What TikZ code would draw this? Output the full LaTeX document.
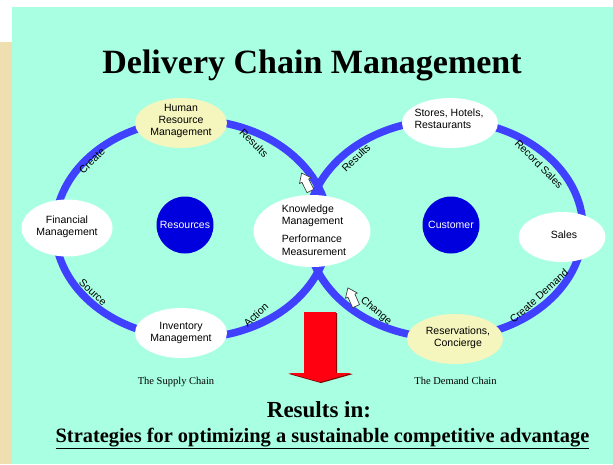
\documentclass[tikz,border=0pt]{standalone}
\usepackage{fontspec}
\setmainfont{Liberation Serif}
\newfontfamily\arialf{Liberation Sans}
\usetikzlibrary{shapes.geometric}
\definecolor{mint}{RGB}{168,255,226}
\definecolor{sand}{RGB}{238,222,176}
\definecolor{ringblue}{RGB}{64,64,255}
\definecolor{deepblue}{RGB}{0,0,222}
\definecolor{paleyellow}{RGB}{245,245,190}
\definecolor{arrowred}{RGB}{255,0,16}
\definecolor{darkred}{RGB}{120,0,0}

\begin{document}
\begin{tikzpicture}[x=1pt,y=-1pt,
  ring/.style={draw=ringblue,line width=7.5pt},
  oval/.style={ellipse,draw=none,fill=white,inner sep=0pt},
  hub/.style={circle,fill=deepblue,minimum size=57pt,inner sep=0pt,text=white,
    font=\arialf\fontsize{10.5}{12}\selectfont},
  txt/.style={font=\arialf\fontsize{10.5}{12.3}\selectfont,align=center,inner sep=0pt},
  arclabel/.style={font=\arialf\fontsize{10.5}{12}\selectfont,inner sep=0pt},
  chaincap/.style={font=\fontsize{10.5}{12}\selectfont,inner sep=0pt,anchor=base},
  pointer/.style={draw=black!75,fill=white,line width=0.7pt,line join=round}
]
\useasboundingbox (0,0) rectangle (613,464);
% background panels
\fill[white] (0,0) rectangle (613,464);
\fill[sand] (0,42) rectangle (12,464);
\fill[mint] (12,7) rectangle (613,464);

% title
\node[anchor=base,font=\bfseries\fontsize{34}{36}\selectfont] (title) at (312,73)
  {Delivery Chain Management};

% the two chains
\draw[ring] (192,229) ellipse [x radius=137pt, y radius=109pt];
\draw[ring] (445,229) ellipse [x radius=138pt, y radius=109pt];

% supply chain stations
\node[oval,fill=paleyellow,minimum width=92pt,minimum height=50pt] (hrm) at (181,123) {};
\node[txt] (hrmtext) at (181,121) {Human\\Resource\\Management};
\node[oval,minimum width=91pt,minimum height=57pt] (fin) at (67,228) {};
\node[txt] (fintext) at (67,227) {Financial\\Management};
\node[oval,minimum width=92pt,minimum height=50pt] (inv) at (181,333) {};
\node[txt] (invtext) at (181,333) {Inventory\\Management};
\node[hub] (res) at (185,225) {Resources};

% shared station
\node[oval,minimum width=117pt,minimum height=72pt] (know) at (312,231) {};
\node[txt,align=left] (knowtext) at (314,230)
  {Knowledge\\Management\\[6pt]Performance\\Measurement};

% demand chain stations
\node[oval,minimum width=96pt,minimum height=50pt] (store) at (450,123) {};
\node[txt,align=left] (storetext) at (449,119) {Stores, Hotels,\\Restaurants};
\node[oval,minimum width=87pt,minimum height=50pt] (sales) at (562,237) {};
\node[txt] (salestext) at (564,235) {Sales};
\node[oval,fill=paleyellow,minimum width=96pt,minimum height=50pt] (resv) at (455,339) {};
\node[txt] (resvtext) at (458,338) {Reservations,\\Concierge};
\node[hub] (cust) at (451,225) {Customer};

% labels along the chains
\node[arclabel,rotate=45] (lcreate) at (92,161) {Create};
\node[arclabel,rotate=-45] (lres1) at (254,143) {Results};
\node[arclabel,rotate=-43] (lsource) at (93,292) {Source};
\node[arclabel,rotate=43] (laction) at (256,315) {Action};
\node[arclabel,rotate=44] (lres2) at (356,158) {Results};
\node[arclabel,rotate=-45] (lrec) at (539,164) {Record Sales};
\node[arclabel,rotate=-40] (lchange) at (376,311) {Change};
\node[arclabel,rotate=42] (ldemand) at (539,296) {Create Demand};

% small feedback pointers (block arrows drawn along their own axis)
\begin{scope}[shift={(306,182)},rotate=116]
  \draw[pointer] (-10,-3.8) -- (1.5,-3.8) -- (1.5,-6.5) -- (10,0) -- (1.5,6.5) -- (1.5,3.8) -- (-10,3.8) -- cycle;
\end{scope}
\begin{scope}[shift={(352,297)},rotate=114]
  \draw[pointer] (-10,-3.8) -- (1.5,-3.8) -- (1.5,-6.5) -- (10,0) -- (1.5,6.5) -- (1.5,3.8) -- (-10,3.8) -- cycle;
\end{scope}

% big result arrow with its dark edge
\fill[darkred] (305,313) -- (337,313) -- (337,374) -- (353,374) -- (321,383) -- (289,374) -- (305,374) -- cycle;
\fill[arrowred] (304,312) -- (336,312) -- (336,373) -- (352,373) -- (320,382) -- (288,373) -- (304,373) -- cycle;

% chain captions
\node[chaincap] (supcap) at (176,384) {The Supply Chain};
\node[chaincap] (demcap) at (455.5,384) {The Demand Chain};

% conclusion
\node[anchor=base,font=\bfseries\fontsize{23}{26}\selectfont] (resin) at (319,417) {Results in:};
\node[anchor=base,font=\bfseries\fontsize{20.4}{24}\selectfont] (strat) at (322.5,442)
  {\underline{Strategies for optimizing a sustainable competitive advantage}};
\end{tikzpicture}
\end{document}
